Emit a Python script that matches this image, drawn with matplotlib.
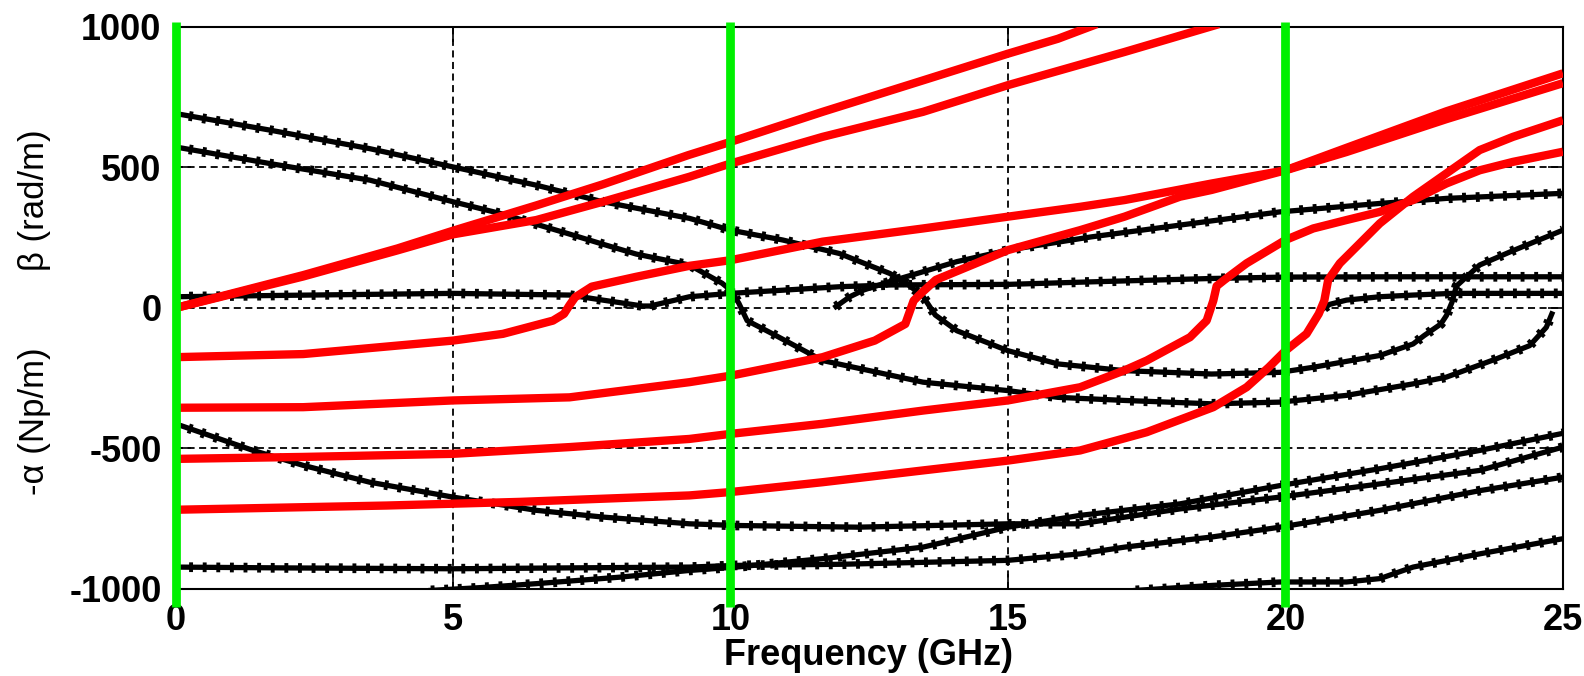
import matplotlib
matplotlib.use('Agg')
import matplotlib.pyplot as plt

plt.rcParams['font.family'] = ['Liberation Sans', 'DejaVu Sans']
plt.rcParams['axes.unicode_minus'] = False

# red curves (beta / alpha of the modes)
ra_x = [0, 2.3, 4, 5, 6.5, 7.7, 9.24, 10, 11.66, 13.47, 15, 15.9, 16.6]
ra_y = [0, 117, 212, 275, 365, 440, 544, 591, 698, 810, 905, 958, 1010]
rb_x = [0, 2.3, 4, 5, 6.5, 7.7, 9.26, 10, 11.66, 13.47, 15, 17.1, 18.8]
rb_y = [0, 112, 205, 262, 313, 378, 467, 514, 609, 698, 793, 911, 1010]
rc_x = [0, 2.3, 5, 5.9, 6.8, 7.0, 7.1, 7.2, 7.5, 8.3, 9.26, 10, 11.66, 13.47, 15, 16.3, 17.1, 18.67, 20, 21.1, 22.9, 25]
rc_y = [-175, -164, -116, -92, -45, -21, 10, 38, 76, 111, 150, 170, 236, 283, 325, 360, 384, 443, 490, 570, 700, 835]
rd_x = [0, 2.3, 5, 7.1, 9.26, 10, 11.66, 12.6, 13.15, 13.3, 13.45, 13.7, 15, 16.3, 17.1, 18.1, 18.67, 20, 21.1, 22.9, 25]
rd_y = [-355, -353, -329, -318, -264, -241, -175, -116, -57, 26, 55, 100, 206, 277, 325, 396, 420, 490, 555, 672, 800]
re_x = [0, 2.3, 5, 7.1, 9.26, 10, 11.66, 13.47, 15, 16.3, 17.1, 17.5, 18.28, 18.58, 18.7, 18.76, 18.9, 19.3, 19.9, 20, 20.5,
        21.1, 21.7, 22.3, 22.9, 23.5, 24.1, 25]
re_y = [-537, -530, -519, -495, -466, -448, -412, -365, -329, -282, -222, -187, -104, -45, 26, 78, 100, 159, 230, 242, 283,
        313, 342, 384, 443, 490, 520, 556]
rf_x = [0, 3.8, 6.2, 9.26, 10, 11.66, 13.47, 15, 16.3, 17.5, 18.7, 19.3, 19.7, 20, 20.38, 20.6, 20.7, 20.77, 20.98, 21.28,
        21.7, 22.3, 22.9, 23.5, 24.1, 25]
rf_y = [-718, -703, -690, -667, -655, -620, -578, -543, -507, -442, -353, -282, -211, -152, -92, -21, 26, 100, 159, 218,
        301, 396, 479, 562, 609, 668]

# black curves
k1_x = [0, 1.7, 3.5, 5, 6.5, 7.7, 9.26, 10, 10.94, 11.96, 12.87, 13.17, 13.47, 13.69, 14.08, 15, 15.9, 17.1, 18.67, 19.9,
        20.5, 21.7, 22.3, 22.5, 22.8, 22.9, 23.0, 23.08, 23.5, 24.1, 25]
k1_y = [692, 633, 567, 502, 437, 378, 319, 277, 242, 194, 123, 88, 41, -25, -81, -152, -199, -223, -235, -229,
        -211, -169, -128, -98, -57, -27, 20, 78, 153, 204, 277]
k2_x = [0, 1.7, 3.5, 5, 5.9, 6.5, 7.1, 7.7, 8.3, 9.26, 9.85, 10, 10.15, 10.3, 10.76, 11.66, 13.47, 15, 15.9, 17.1, 18.67,
        19.9, 21.1, 22.3, 22.9, 23.8, 24.4, 24.7, 24.8]
k2_y = [573, 514, 455, 378, 334, 298, 263, 227, 192, 153, 88, 64, 17, -45, -92, -187, -264, -294, -318, -329, -341,
        -335, -311, -270, -246, -181, -134, -69, -21]
k3_x = [11.9, 12.15, 12.4, 12.87, 13.47, 14.08, 15, 16.5, 18.1, 19.9, 21.7, 22.9, 25]
k3_y = [5, 40, 64, 94, 129, 165, 206, 253, 295, 342, 372, 390, 408]
k4_x = [0, 2, 5, 7.1, 7.7, 8.42, 8.55, 9.26, 10, 11, 12, 12.9, 15, 16.5, 18.67, 20, 22, 25]
k4_y = [40, 45, 52, 46, 28, 7, 7, 40, 52, 64, 76, 82, 84, 93, 105, 110, 111, 111]
k6_x = [20.7, 20.8, 21.1, 21.7, 22.3, 23.0, 25]
k6_y = [0, 13, 28, 40, 46, 52, 52]
k7_x = [0, 1.4, 2.3, 3.5, 5, 6.5, 7.7, 9.26, 10.1, 12.3, 15, 16.3, 18.1, 19.9, 21.7, 23.5, 25]
k7_y = [-412, -507, -560, -620, -673, -720, -744, -768, -774, -780, -768, -768, -715, -673, -626, -578, -495]
k8_x = [4.6, 5.5, 6.5, 8, 9.26, 10.1, 11.66, 13.47, 15, 16.3, 18.1, 19.9, 21.7, 23.5, 25]
k8_y = [-1005, -995, -981, -958, -934, -922, -892, -851, -780, -738, -697, -632, -572, -507, -446]
k9_x = [0, 2, 5, 7, 9.26, 10.1, 12, 13.5, 15, 16.3, 17.1, 18.67, 19.9, 21.7, 23.5, 25]
k9_y = [-922, -925, -928, -925, -922, -916, -912, -905, -898, -875, -851, -815, -780, -720, -650, -602]
k11_x = [17.3, 18.7, 19.9, 21.1, 21.7, 22.3, 23.5, 25]
k11_y = [-1005, -987, -975, -975, -963, -922, -875, -821]

green_x = [0, 10, 20]
green_lo, green_hi = -1063, 1017

red_curves = [(ra_x, ra_y), (rb_x, rb_y), (rc_x, rc_y), (rd_x, rd_y), (re_x, re_y), (rf_x, rf_y)]
black_curves = [(k1_x, k1_y), (k2_x, k2_y), (k3_x, k3_y), (k4_x, k4_y), (k6_x, k6_y),
                (k7_x, k7_y), (k8_x, k8_y), (k9_x, k9_y), (k11_x, k11_y)]

fig = plt.figure(figsize=(15.84, 6.76), dpi=100)
ax = fig.add_axes([0.1108, 0.1287, 0.8759, 0.8314])

for x, y in black_curves:
    ax.plot(x, y, color='black', lw=3.8, zorder=3)
    ax.plot(x, y, color='black', lw=7, linestyle=(0, (0.4, 1.0)), dash_capstyle='butt', zorder=3)

for x, y in red_curves:
    ax.plot(x, y, color='#ff0000', lw=6, solid_capstyle='butt', zorder=4)

ax.vlines(green_x, green_lo, green_hi, color='#00f000', lw=6.3, zorder=6, clip_on=False)

ax.set_xlim(0, 25)
ax.set_ylim(-1000, 1000)
ax.set_xticks([0, 5, 10, 15, 20, 25])
ax.set_yticks([-1000, -500, 0, 500, 1000])
ax.grid(True, color='black', linestyle=(0, (3.9, 2.5)), lw=1.3)
ax.set_axisbelow(True)
ax.tick_params(direction='in', length=11, width=1.2, top=True, right=True,
               labelsize=26, pad=10)
for lab in ax.get_xticklabels() + ax.get_yticklabels():
    lab.set_fontweight('bold')
for s in ax.spines.values():
    s.set_linewidth(1.5)

fig.text(0.022, 0.704, 'β (rad/m)', rotation=90, fontsize=25, ha='center', va='center')
fig.text(0.022, 0.377, '-α (Np/m)', rotation=90, fontsize=25, ha='center', va='center')
fig.text(0.548, 0.016, 'Frequency (GHz)', fontsize=26, fontweight='bold', ha='center', va='baseline')

fig.savefig('out.png', dpi=100)
